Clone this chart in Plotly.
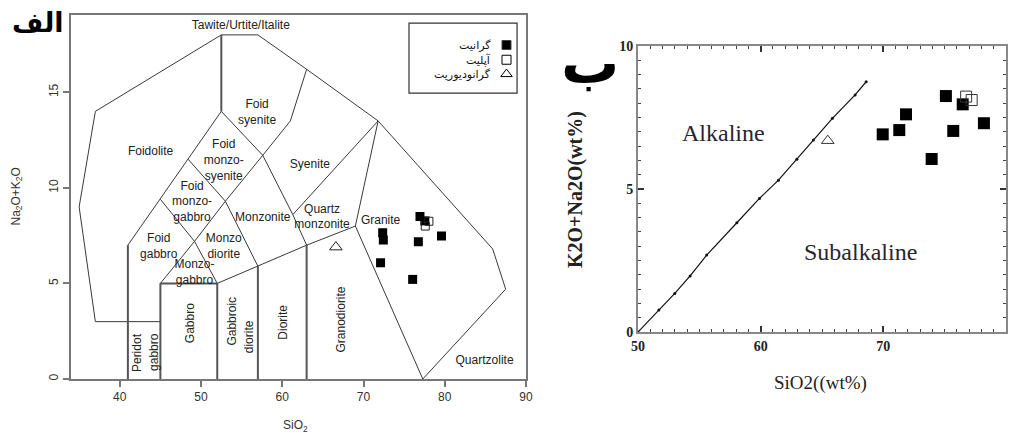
import plotly.graph_objects as go

# ---------------- Left panel: Middlemost (1994) plutonic TAS diagram ----------------
# outer envelope of the diagram (SiO2, Na2O+K2O)
outer_sio2 = [45, 37, 35, 37, 52.5, 57, 63, 71.8, 85.9, 87.5, 77.3]
outer_alk = [3, 3, 9, 14, 18, 18, 16.2, 13.5, 6.8, 4.7, 0]

# heavy vertical / horizontal field borders
heavy_lines = [
    ([41, 41], [0, 7]),
    ([45, 45], [0, 5]),
    ([52, 52], [0, 5]),
    ([57, 57], [0, 5.9]),
    ([63, 63], [0, 7]),
    ([52.5, 52.5], [14, 18]),
    ([45, 52], [5, 5]),
]
# oblique field borders
thin_lines = [
    ([41, 52.5], [7, 14]),
    ([45, 49.2, 53, 57.6], [5, 7.2, 9.3, 11.7]),
    ([52, 57, 63, 69], [5, 5.9, 7, 8]),
    ([61.3, 71.8], [8.6, 13.5]),
    ([45, 49.2, 52], [9.4, 7.2, 5]),
    ([48.4, 53, 57], [11.5, 9.3, 5.9]),
    ([52.5, 57.6, 61.3, 63], [14, 11.7, 8.6, 7]),
    ([57.6, 61, 63], [11.7, 13.5, 16.2]),
    ([69, 71.8], [8, 13.5]),
    ([69, 77.3], [8, 0]),
]

# field names (horizontal)
field_names = ["Tawite/Urtite/Italite", "Foid<br>syenite", "Foidolite", "Foid<br>monzo-<br>syenite",
               "Syenite", "Foid<br>monzo-<br>gabbro", "Monzonite", "Quartz<br>monzonite", "Granite",
               "Foid<br>gabbro", "Monzo<br>diorite", "Monzo-<br>gabbro", "Quartzolite"]
field_x = [54.9, 56.9, 43.8, 52.8, 63.4, 48.9, 57.6, 64.9, 72.1, 44.8, 52.8, 49.2, 84.9]
field_y = [18.45, 13.9, 11.9, 11.4, 11.2, 9.25, 8.4, 8.45, 8.28, 6.9, 6.9, 5.55, 0.96]
# field names (vertical)
vfield_names = ["Peridot", "gabbro", "Gabbro", "Gabbroic", "diorite", "Diorite", "Granodiorite"]
vfield_x = [42.1, 44.3, 48.6, 53.8, 55.95, 60.1, 67.2]
vfield_y = [1.4, 1.4, 2.9, 3.05, 2.2, 2.95, 3.1]

# samples (left panel)
granite_sio2_a = [76.95, 77.55, 72.36, 72.44, 76.75, 79.6, 72.1, 76.05]
granite_alk_a = [8.5, 8.27, 7.65, 7.27, 7.18, 7.48, 6.08, 5.21]
aplite_sio2_a = [77.6, 78.05]
aplite_alk_a = [8.0, 8.25]
granodiorite_sio2_a = [66.6]
granodiorite_alk_a = [6.9]

# ---------------- Right panel: alkaline / subalkaline ----------------
divide_sio2 = [50, 51.7, 53.0, 54.25, 55.6, 58.06, 59.9, 61.45, 62.95, 64.3, 65.85, 67.7, 68.6]
divide_alk = [0, 0.77, 1.35, 1.96, 2.69, 3.82, 4.67, 5.31, 6.04, 6.71, 7.47, 8.29, 8.75]

granite_sio2_b = [69.95, 71.3, 71.85, 75.1, 76.47, 75.7, 78.2, 73.94]
granite_alk_b = [6.91, 7.06, 7.61, 8.25, 7.96, 7.03, 7.3, 6.05]
aplite_sio2_b = [76.75, 77.2]
aplite_alk_b = [8.23, 8.11]
granodiorite_sio2_b = [65.47]
granodiorite_alk_b = [6.69]

legend_names = ["گرانیت", "آپلیت", "گرانودیوریت"]

fig = go.Figure()

# ---- left panel drawing ----
LINE_DARK = "#3a3a3a"
fig.add_trace(go.Scatter(x=outer_sio2, y=outer_alk, mode="lines",
                         line=dict(color=LINE_DARK, width=1), xaxis="x", yaxis="y",
                         hoverinfo="skip"))
for xs, ys in heavy_lines:
    fig.add_trace(go.Scatter(x=xs, y=ys, mode="lines", line=dict(color="#555", width=2),
                             xaxis="x", yaxis="y", hoverinfo="skip"))
for xs, ys in thin_lines:
    fig.add_trace(go.Scatter(x=xs, y=ys, mode="lines", line=dict(color=LINE_DARK, width=1),
                             xaxis="x", yaxis="y", hoverinfo="skip"))

fig.add_trace(go.Scatter(x=field_x, y=field_y, mode="text", text=field_names,
                         textfont=dict(family="Liberation Sans, Arial", size=12, color="#222"),
                         xaxis="x", yaxis="y", hoverinfo="skip"))

annotations = []
for name, vx, vy in zip(vfield_names, vfield_x, vfield_y):
    annotations.append(dict(x=vx, y=vy, xref="x", yref="y", text=name, showarrow=False,
                            textangle=-90, font=dict(family="Liberation Sans, Arial", size=12, color="#222")))

fig.add_trace(go.Scatter(x=granite_sio2_a, y=granite_alk_a, mode="markers",
                         marker=dict(symbol="square", size=9, color="black"),
                         xaxis="x", yaxis="y"))
fig.add_trace(go.Scatter(x=aplite_sio2_a, y=aplite_alk_a, mode="markers",
                         marker=dict(symbol="square-open", size=8, color="#222", line=dict(width=1)),
                         xaxis="x", yaxis="y"))
fig.add_trace(go.Scatter(x=granodiorite_sio2_a, y=granodiorite_alk_a, mode="markers",
                         marker=dict(symbol="triangle-up-open", size=11, color="#222", line=dict(width=1)),
                         xaxis="x", yaxis="y"))

# legend box (upper right of the left panel)
legend_key_x = 87.6
legend_text_x = 85.9
legend_rows_y = [17.47, 16.7, 15.95]
legend_symbols = ["square", "square-open", "triangle-up-open"]
legend_sizes = [9, 9, 10]
for sym, sz, ly in zip(legend_symbols, legend_sizes, legend_rows_y):
    fig.add_trace(go.Scatter(x=[legend_key_x], y=[ly], mode="markers",
                             marker=dict(symbol=sym, size=sz, color="black", line=dict(width=1)),
                             xaxis="x", yaxis="y", hoverinfo="skip"))
for name, ly in zip(legend_names, legend_rows_y):
    annotations.append(dict(x=legend_text_x, y=ly, xref="x", yref="y", text=name, showarrow=False,
                            xanchor="right", font=dict(family="DejaVu Sans", size=11, color="#111")))

shapes = [dict(type="rect", xref="x", yref="y", x0=75.6, x1=88.9, y0=14.95, y1=18.62,
               line=dict(color="#333", width=1.2), fillcolor="rgba(0,0,0,0)")]

# ---- right panel drawing ----
fig.add_trace(go.Scatter(x=divide_sio2, y=divide_alk, mode="lines+markers",
                         line=dict(color="#111", width=1.2), marker=dict(size=3, color="#111"),
                         xaxis="x2", yaxis="y2", hoverinfo="skip"))
fig.add_trace(go.Scatter(x=granite_sio2_b, y=granite_alk_b, mode="markers",
                         marker=dict(symbol="square", size=12, color="black"),
                         xaxis="x2", yaxis="y2"))
fig.add_trace(go.Scatter(x=aplite_sio2_b, y=aplite_alk_b, mode="markers",
                         marker=dict(symbol="square-open", size=11, color="#333", line=dict(width=1)),
                         xaxis="x2", yaxis="y2"))
fig.add_trace(go.Scatter(x=granodiorite_sio2_b, y=granodiorite_alk_b, mode="markers",
                         marker=dict(symbol="triangle-up-open", size=11, color="#333", line=dict(width=1)),
                         xaxis="x2", yaxis="y2"))

serif = "Liberation Serif, Times New Roman, serif"
annotations += [
    dict(x=57.0, y=6.95, xref="x2", yref="y2", text="Alkaline", showarrow=False,
         font=dict(family=serif, size=24, color="#2a2530")),
    dict(x=68.1, y=2.8, xref="x2", yref="y2", text="Subalkaline", showarrow=False,
         font=dict(family=serif, size=24, color="#2a2530")),
]

# titles and panel letters, positioned in pixels (centre of the text)
page_texts = [
    dict(x=295, y=426, text="SiO<sub>2</sub>", angle=0,
         font=dict(family="Liberation Sans, Arial", size=12, color="#333")),
    dict(x=16.5, y=197, text="Na<sub>2</sub>O+K<sub>2</sub>O", angle=-90,
         font=dict(family="Liberation Sans, Arial", size=12, color="#333")),
    dict(x=820, y=383, text="SiO2((wt%)", angle=0,
         font=dict(family=serif, size=19, color="#222")),
    dict(x=576, y=190, text="<b>K2O+Na2O(wt%)</b>", angle=-90,
         font=dict(family=serif, size=20, color="#222")),
    dict(x=38, y=22, text="<b>الف</b>", angle=0,
         font=dict(family="DejaVu Sans", size=27, color="black")),
    dict(x=590, y=63, text="<b>ب</b>", angle=0,
         font=dict(family="DejaVu Sans", size=58, color="black")),
]

W, H = 1011, 436
for t in page_texts:
    annotations.append(dict(x=t["x"] / W, y=1 - t["y"] / H, xref="paper", yref="paper",
                            xanchor="center", yanchor="middle", text=t["text"],
                            textangle=t["angle"], showarrow=False, font=t["font"]))

FRAME = "#777"
fig.update_layout(
    width=W, height=H, margin=dict(l=0, r=0, t=0, b=0, autoexpand=False),
    paper_bgcolor="white", plot_bgcolor="white", showlegend=False,
    annotations=annotations, shapes=shapes,
    xaxis=dict(domain=[71 / W, 526 / W], range=[34, 90], tick0=40, dtick=10, automargin=False,
               showgrid=False, zeroline=False, showline=True, linecolor=FRAME, linewidth=2,
               mirror=True, ticks="outside", ticklen=6, tickcolor=FRAME, tickwidth=2,
               tickfont=dict(family="Liberation Sans, Arial", size=12, color="#333")),
    yaxis=dict(domain=[1 - 379 / H, 1 - 15 / H], range=[0, 19.04], tick0=0, dtick=5, automargin=False,
               showgrid=False, zeroline=False, showline=True, linecolor=FRAME, linewidth=2,
               mirror=True, ticks="outside", ticklen=6, tickcolor=FRAME, tickwidth=2,
               tickangle=-90,
               tickfont=dict(family="Liberation Sans, Arial", size=12, color="#333")),
    xaxis2=dict(domain=[638 / W, 1006 / W], range=[50, 80], tick0=50, dtick=10, anchor="y2",
                automargin=False,
                showgrid=False, zeroline=False, showline=True, linecolor="#888", linewidth=2,
                mirror="ticks", ticks="inside", ticklen=6, tickcolor="#333", tickwidth=1.5,
                minor=dict(dtick=1, ticks="inside", ticklen=3, tickcolor="#444", tickwidth=1.2),
                tickfont=dict(family=serif, size=14, color="#222", weight="bold")),
    yaxis2=dict(domain=[1 - 332 / H, 1 - 46 / H], range=[0, 10], tick0=0, dtick=5, anchor="x2",
                automargin=False,
                showgrid=False, zeroline=False, showline=True, linecolor="#888", linewidth=2,
                mirror="ticks", ticks="inside", ticklen=6, tickcolor="#333", tickwidth=1.5,
                minor=dict(dtick=0.5, ticks="inside", ticklen=3, tickcolor="#444", tickwidth=1.2),
                tickfont=dict(family=serif, size=14, color="#222", weight="bold")),
)

fig.write_html("out.html")
